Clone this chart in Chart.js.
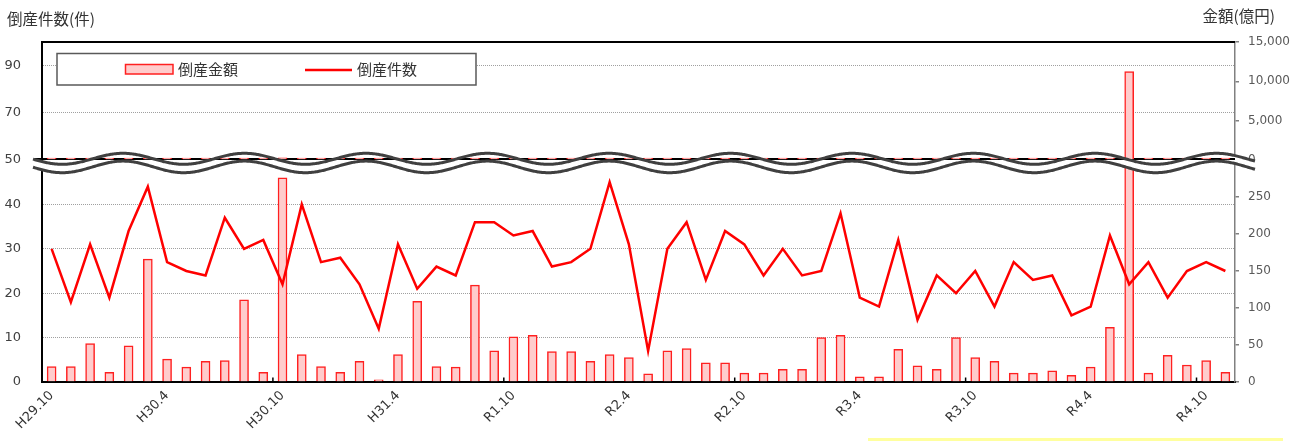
<!DOCTYPE html>
<html><head><meta charset="utf-8">
<script src="https://cdn.jsdelivr.net/npm/chart.js@4"></script>
<style>html,body{margin:0;padding:0;background:#fff;}#wrap{position:relative;width:1299px;height:441px;}</style>
</head><body><div id="wrap"><canvas id="c" width="1299" height="441"></canvas></div>
<script>
// ---- data ----
const categories = ["H29.10","H29.11","H29.12","H30.1","H30.2","H30.3","H30.4","H30.5","H30.6","H30.7","H30.8","H30.9","H30.10","H30.11","H30.12","H31.1","H31.2","H31.3","H31.4","R1.5","R1.6","R1.7","R1.8","R1.9","R1.10","R1.11","R1.12","R2.1","R2.2","R2.3","R2.4","R2.5","R2.6","R2.7","R2.8","R2.9","R2.10","R2.11","R2.12","R3.1","R3.2","R3.3","R3.4","R3.5","R3.6","R3.7","R3.8","R3.9","R3.10","R3.11","R3.12","R4.1","R4.2","R4.3","R4.4","R4.5","R4.6","R4.7","R4.8","R4.9","R4.10","R4.11"];
const countValues = [30,18,31,19,34,44,27,25,24,37,30,32,22,40,27,28,22,12,31,21,26,24,36,36,33,34,26,27,30,45,31,7,30,36,23,34,31,24,30,24,25,38,19,17,32,14,24,20,25,17,27,23,24,15,17,33,22,27,19,25,27,25];
const amountValues = [21,21,52,13,49,166,31,20,28,29,111,13,276,37,21,13,28,3,37,109,21,20,131,42,61,63,41,41,28,37,33,11,42,45,26,26,12,12,17,17,60,63,7,7,44,22,17,60,33,28,12,12,15,9,20,74,11250,12,36,23,29,13];
const countLabel = "倒産件数";
const amountLabel = "倒産金額";
const leftTitle = "倒産件数(件)";
const rightTitle = "金額(億円)";
const leftLowerTicks = [0,10,20,30,40];
const leftUpperTicks = [50,70,90];
const rightLowerTicks = [0,50,100,150,200,250];
const rightUpperTicks = [0,5000,10000,15000];
const leftLowerRange = [0,50];
const leftUpperRange = [50,100];
const rightLowerRange = [0,300];
const rightUpperRange = [0,15000];
const labelStep = 6;
const tickMarkStep = 12;

const lowerBars = amountValues.map(v => Math.min(v, rightLowerRange[1]));

const NUM_FONT = '"DejaVu Sans", Verdana, sans-serif';
const JP_FONT = '"Noto Sans CJK JP", "Noto Sans", sans-serif';

function waveY(x, c, a) { return c - a * Math.cos(2 * Math.PI * (x - 123) / 121.5); }

const deco = {
  id: 'deco',
  beforeDatasetDraw(chart, args) {
    if (args.index !== 2) return;
    const ctx = chart.ctx, ca = chart.chartArea;
    const yb = chart.scales.yRU.bottom;
    ctx.save();
    // white band between waves
    ctx.beginPath();
    for (let x = 33; x <= 1255; x++) ctx.lineTo(x, waveY(x, 158.8, 5.5));
    for (let x = 1255; x >= 33; x--) ctx.lineTo(x, waveY(x, 166.9, 5.8));
    ctx.closePath();
    ctx.fillStyle = '#ffffff';
    ctx.fill();
    // break base line
    ctx.strokeStyle = '#000';
    ctx.lineWidth = 2;
    ctx.beginPath();
    ctx.moveTo(35, yb - 1); ctx.lineTo(ca.right, yb - 1);
    ctx.stroke();
    ctx.restore();
  },
  afterDatasetsDraw(chart) {
    const ctx = chart.ctx;
    ctx.save();
    ctx.strokeStyle = '#404040';
    ctx.lineWidth = 3;
    [[158.8, 5.5], [166.9, 5.8]].forEach(([c, a]) => {
      ctx.beginPath();
      for (let x = 33; x <= 1255; x++) { const y = waveY(x, c, a); if (x === 33) ctx.moveTo(x, y); else ctx.lineTo(x, y); }
      ctx.stroke();
    });
    ctx.restore();
  },
  afterDraw(chart) {
    const ctx = chart.ctx, ca = chart.chartArea, xs = chart.scales.x;
    ctx.save();
    // top border
    ctx.strokeStyle = '#000'; ctx.lineWidth = 2;
    ctx.beginPath(); ctx.moveTo(ca.left - 1, ca.top); ctx.lineTo(ca.right, ca.top); ctx.stroke();
    // x tick marks (inside)
    ctx.lineWidth = 1.5;
    for (let i = tickMarkStep; i < categories.length; i += tickMarkStep) {
      const x = (xs.getPixelForValue(i - 1) + xs.getPixelForValue(i)) / 2;
      ctx.beginPath(); ctx.moveTo(x, ca.bottom); ctx.lineTo(x, ca.bottom - 4.5); ctx.stroke();
    }
    // legend
    ctx.fillStyle = '#fff'; ctx.fillRect(57, 53.5, 419, 31.5);
    ctx.strokeStyle = '#595959'; ctx.lineWidth = 1.5; ctx.strokeRect(57, 53.5, 419, 31.5);
    ctx.fillStyle = '#ffcccc'; ctx.fillRect(125.5, 64.5, 47.5, 9.5);
    ctx.strokeStyle = '#ff2020'; ctx.lineWidth = 1.5; ctx.strokeRect(125.5, 64.5, 47.5, 9.5);
    ctx.strokeStyle = '#ff0000'; ctx.lineWidth = 2.5;
    ctx.beginPath(); ctx.moveTo(305, 70); ctx.lineTo(352, 70); ctx.stroke();
    ctx.fillStyle = '#333'; ctx.textBaseline = 'middle'; ctx.textAlign = 'left';
    ctx.font = '15px ' + JP_FONT;
    ctx.fillText(amountLabel, 178, 69.5);
    ctx.fillText(countLabel, 357, 69.5);
    // axis titles
    ctx.font = '15.5px ' + JP_FONT;
    ctx.fillText(leftTitle, 7, 19.5);
    ctx.textAlign = 'right';
    ctx.fillText(rightTitle, 1275, 16.5);
    // yellow strip
    ctx.fillStyle = '#ffff9e';
    ctx.fillRect(868, 438, 415, 3);
    ctx.restore();
  }
};

const leftGrid = (zeroHide) => ({
  color: (c) => (c.tick && c.tick.value === zeroHide) ? 'rgba(0,0,0,0)' : '#a0a0a0',
  lineWidth: 1, drawTicks: false
});

new Chart(document.getElementById('c'), {
  type: 'bar',
  data: {
    labels: categories,
    datasets: [
      { type: 'line', label: countLabel, data: countValues, yAxisID: 'yL', borderColor: '#ff0000', borderWidth: 2.5, pointRadius: 0, tension: 0, fill: false, order: 0 },
      { type: 'bar', label: amountLabel, data: lowerBars, yAxisID: 'yR', backgroundColor: '#ffcccc', borderColor: '#ff2020', borderWidth: 1.5, barThickness: 9, grouped: false, order: 1 },
      { type: 'bar', label: amountLabel, data: amountValues, yAxisID: 'yRU', backgroundColor: '#ffcccc', borderColor: '#ff2020', borderWidth: 1.5, barThickness: 9, grouped: false, minBarLength: 2, order: -1 }
    ]
  },
  options: {
    responsive: false, animation: false, devicePixelRatio: 1, events: [],
    layout: { padding: { top: 42, left: 0, right: 0, bottom: 0 } },
    plugins: { legend: { display: false }, tooltip: { enabled: false } },
    scales: {
      x: {
        type: 'category', offset: true,
        grid: { display: false, drawTicks: false },
        border: { color: '#000', width: 2 },
        ticks: {
          autoSkip: false, minRotation: 45, maxRotation: 45, padding: 6,
          color: '#333', font: { family: NUM_FONT, size: 13 },
          callback: function (v, i) { return i % labelStep === 0 ? categories[i] : ''; }
        },
        afterFit(s) { s.height = 59; }
      },
      yL: {
        position: 'left', stack: 'L', stackWeight: 222, weight: 1,
        min: leftLowerRange[0], max: leftLowerRange[1],
        afterBuildTicks(s) { s.ticks = leftLowerTicks.map(v => ({ value: v })); },
        grid: leftGrid(0),
        border: { color: '#000', width: 2, dash: [1, 1] },
        ticks: { padding: 21, color: '#404040', font: { family: NUM_FONT, size: 13 }, callback: (v) => String(v) },
        afterFit(s) { s.width = 42; }
      },
      yLU: {
        position: 'left', stack: 'L', stackWeight: 118, weight: 2,
        min: leftUpperRange[0], max: leftUpperRange[1],
        afterBuildTicks(s) { s.ticks = leftUpperTicks.map(v => ({ value: v })); },
        grid: leftGrid(50),
        border: { color: '#000', width: 2, dash: [1, 1] },
        ticks: { padding: 21, color: '#404040', font: { family: NUM_FONT, size: 13 }, callback: (v) => String(v) },
        afterFit(s) { s.width = 42; }
      },
      yR: {
        position: 'right', stack: 'R', stackWeight: 222, weight: 2,
        min: rightLowerRange[0], max: rightLowerRange[1],
        afterBuildTicks(s) { s.ticks = rightLowerTicks.map(v => ({ value: v })); },
        grid: { drawOnChartArea: false, drawTicks: true, tickLength: 4, color: '#808080', lineWidth: 1.5 },
        border: { color: '#808080', width: 1.5 },
        ticks: { padding: 9, color: '#595959', font: { family: NUM_FONT, size: 12 }, callback: (v) => v.toLocaleString('en-US') },
        afterFit(s) { s.width = 64; }
      },
      yRU: {
        position: 'right', stack: 'R', stackWeight: 118, weight: 1,
        min: rightUpperRange[0], max: rightUpperRange[1],
        afterBuildTicks(s) { s.ticks = rightUpperTicks.map(v => ({ value: v })); },
        grid: { drawOnChartArea: false, drawTicks: true, tickLength: 4, color: '#808080', lineWidth: 1.5 },
        border: { color: '#808080', width: 1.5 },
        ticks: { padding: 9, color: '#595959', font: { family: NUM_FONT, size: 12 }, callback: (v) => v.toLocaleString('en-US') },
        afterFit(s) { s.width = 64; }
      }
    }
  },
  plugins: [deco]
});
</script>
</body></html>
